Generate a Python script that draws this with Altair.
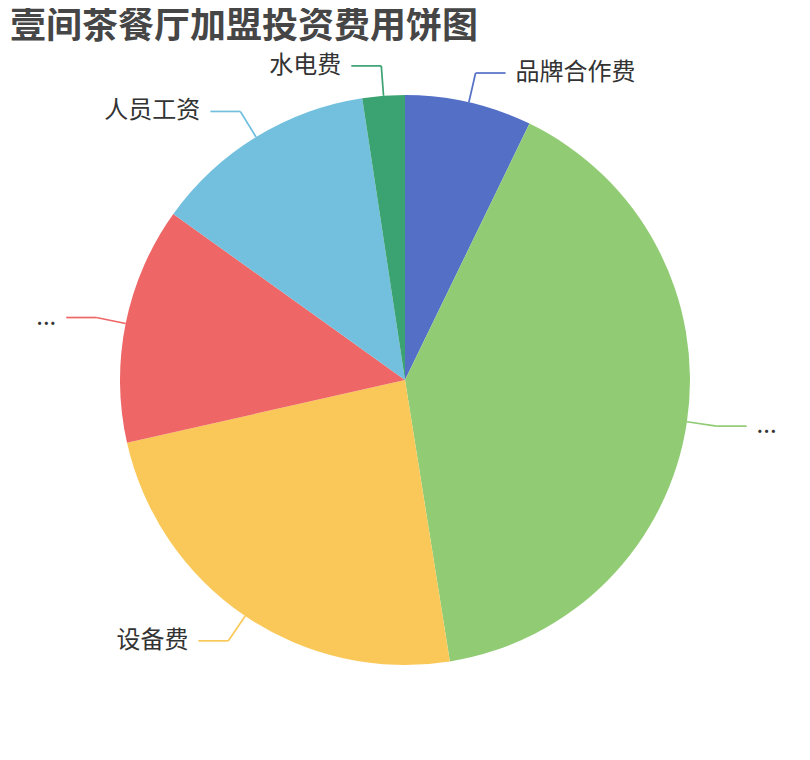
import altair as alt
import pandas as pd

# slices, clockwise from 12 o'clock
NAMES = ["品牌合作费", "...", "设备费", "...", "人员工资", "水电费"]
VALUES = [3, 16.8, 10, 5.6, 5.3, 1]
COLORS = ["#5470c6", "#91cc75", "#fac858", "#ee6666", "#73c0de", "#3ba272"]

TITLE = "壹间茶餐厅加盟投资费用饼图"
FONT = "Noto Sans CJK SC"

CX, CY, R = 397, 316, 285
LEN1, LEN2, GAP = 30, 30, 10

df = pd.DataFrame({"name": NAMES, "value": VALUES, "k": list(range(len(NAMES)))})

color = alt.Color("k:N", scale=alt.Scale(domain=list(range(len(NAMES))), range=COLORS), legend=None)

base = alt.Chart(df)

pie = base.mark_arc(outerRadius=R).encode(
    theta=alt.Theta("value:Q", stack=True),
    order=alt.Order("k:Q"),
    color=color,
    x=alt.value(CX),
    y=alt.value(CY),
)

# leader line geometry, from the cumulative share of each slice
geo = base.transform_window(
    cum="sum(value)", sort=[alt.SortField("k")], frame=[None, 0]
).transform_joinaggregate(
    total="sum(value)"
).transform_calculate(
    mid="(datum.cum - datum.value / 2) / datum.total * 2 * PI",
).transform_calculate(
    x0=f"{CX} + {R} * sin(datum.mid)",
    y0=f"{CY} - {R} * cos(datum.mid)",
    x1=f"{CX} + {R + LEN1} * sin(datum.mid)",
    y1=f"{CY} - {R + LEN1} * cos(datum.mid)",
    side="sin(datum.mid) >= 0 ? 1 : -1",
).transform_calculate(
    x2=f"datum.x1 + datum.side * {LEN2}",
    tx=f"datum.x1 + datum.side * {LEN2 + GAP}",
)

line1 = geo.mark_rule(strokeWidth=1.7).encode(
    x=alt.X("x0:Q", scale=None),
    y=alt.Y("y0:Q", scale=None),
    x2="x1:Q",
    y2="y1:Q",
    color=color,
)
line2 = geo.mark_rule(strokeWidth=1.7).encode(
    x=alt.X("x1:Q", scale=None),
    y=alt.Y("y1:Q", scale=None),
    x2="x2:Q",
    y2="y1:Q",
    color=color,
)

text_style = dict(font=FONT, fontSize=24, color="#333333", baseline="middle")
right_labels = geo.transform_filter("datum.side > 0").mark_text(align="left", **text_style).encode(
    x=alt.X("tx:Q", scale=None),
    y=alt.Y("y1:Q", scale=None),
    text="name:N",
)
left_labels = geo.transform_filter("datum.side < 0").mark_text(align="right", **text_style).encode(
    x=alt.X("tx:Q", scale=None),
    y=alt.Y("y1:Q", scale=None),
    text="name:N",
)

chart = alt.layer(pie, line1, line2, right_labels, left_labels).properties(
    width=794,
    height=688,
    autosize=alt.AutoSizeParams(type="none"),
    padding={"left": 0, "top": 56, "right": 0, "bottom": 0},
    title=alt.TitleParams(
        TITLE, anchor="start", frame="group", dx=2, offset=8,
        font=FONT, fontSize=36, fontWeight="bold", color="#464646",
    ),
).configure_view(stroke=None)

chart.save("out.html", embed_options={"renderer": "svg", "actions": False})
